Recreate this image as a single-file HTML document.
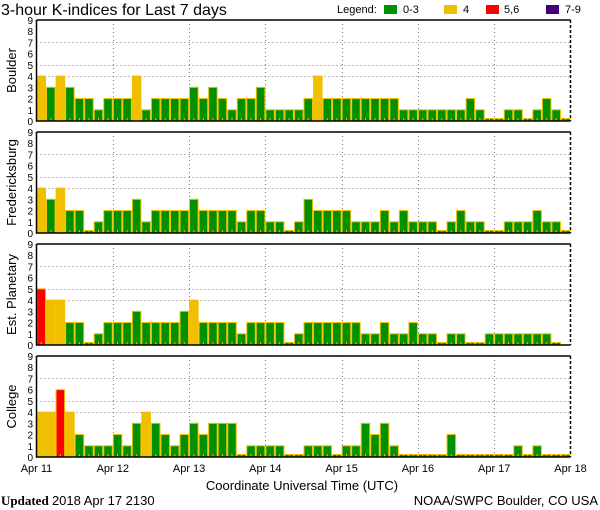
<!DOCTYPE html>
<html><head><meta charset="utf-8"><style>
body{margin:0;background:#fff;}
svg{display:block;font-family:"Liberation Sans",sans-serif;}
</style></head><body>
<svg id="chart" width="600" height="510" viewBox="0 0 600 510">
<text x="1" y="15" font-size="16" fill="#000">3-hour K-indices for Last 7 days</text>
<g font-size="11">
<text x="337" y="13">Legend:</text>
<rect x="384" y="5" width="13" height="9" fill="#009000"/>
<text x="403" y="13">0-3</text>
<rect x="444" y="5" width="13" height="9" fill="#f0c000"/>
<text x="463" y="13">4</text>
<rect x="486" y="5" width="13" height="9" fill="#ff0000"/>
<text x="504" y="13">5,6</text>
<rect x="546" y="5" width="13" height="9" fill="#400080"/>
<text x="565" y="13">7-9</text>
</g>
<g id="panels"></g>
<g id="xlabels" font-size="11"></g>
<text x="302" y="490" font-size="13" text-anchor="middle">Coordinate Universal Time (UTC)</text>
<text x="1" y="505" font-size="13" font-family="Liberation Serif, serif"><tspan font-weight="bold">Updated</tspan> <tspan font-family="Liberation Sans, sans-serif">2018 Apr 17 2130</tspan></text>
<text x="598" y="505" font-size="13" text-anchor="end">NOAA/SWPC Boulder, CO USA</text>
</svg>
<script>
const stations = ["Boulder","Fredericksburg","Est. Planetary","College"];
const dayLabels = ["Apr 11","Apr 12","Apr 13","Apr 14","Apr 15","Apr 16","Apr 17","Apr 18"];
const yTicks = [0,1,2,3,4,5,6,7,8,9];
const gridLevels = [4,5,7];
const boulder = [4,3,4,3,2,2,1,2,2,2,4,1,2,2,2,2,3,2,3,2,1,2,2,3,1,1,1,1,2,4,2,2,2,2,2,2,2,2,1,1,1,1,1,1,1,2,1,0,0,1,1,0,1,2,1,0];
const fredericksburg = [4,3,4,2,2,0,1,2,2,2,3,1,2,2,2,2,3,2,2,2,2,1,2,2,1,1,0,1,3,2,2,2,2,1,1,1,2,1,2,1,1,1,0,1,2,1,1,0,0,1,1,1,2,1,1,0];
const planetary = [5,4,4,2,2,0,1,2,2,2,3,2,2,2,2,3,4,2,2,2,2,1,2,2,2,2,0,1,2,2,2,2,2,2,1,1,2,1,1,2,1,1,0,1,1,0,0,1,1,1,1,1,1,1,0,null];
const college = [4,4,6,4,2,1,1,1,2,1,3,4,3,2,1,2,3,2,3,3,3,0,1,1,1,1,0,0,1,1,1,0,1,1,3,2,3,1,0,0,0,0,0,2,0,0,0,0,0,0,1,0,1,0,0,0];
const series = [boulder,fredericksburg,planetary,college];

const NS="http://www.w3.org/2000/svg";
const X0=36.5, X1=570.5, NB=56;
const panelTops=[20,132,244,356], PH=101;
const bw=(X1-X0)/NB;
function xScale(i){return X0+i*bw;}
function mk(tag,attrs,parent){const e=document.createElementNS(NS,tag);for(const k in attrs)e.setAttribute(k,attrs[k]);parent.appendChild(e);return e;}
function color(v){return v<=3?"#009000":v==4?"#f0c000":v<=6?"#ff0000":"#400080";}
const P=document.getElementById("panels");
stations.forEach((name,pi)=>{
  const top=panelTops[pi], bot=top+PH;
  const yS=v=>bot-v*PH/9;
  const g=mk("g",{},P);
  
  
  // grid
  gridLevels.forEach(l=>{
    const ln=mk("line",{x1:X0,x2:X1,y1:Math.round(yS(l))+0.5,y2:Math.round(yS(l))+0.5,stroke:"#777","stroke-dasharray":"1 3"},g);
    
    
  });
  for(let d=1;d<7;d++){
    const x=Math.round(xScale(d*8))+0.5;
    const ln=mk("line",{x1:x,x2:x,y1:top,y2:bot,stroke:"#777","stroke-dasharray":"1 3"},g);
    
    
  }
  // bars
  series[pi].forEach((v,i)=>{
    if(v===null)return;
    const x=xScale(i), y=v===0?bot-2.5:yS(v);
    const r=mk("rect",{x:x+0.5,y:y,width:bw-1,height:bot-y,fill:color(v),stroke:"#f0c000","stroke-width":1},g);
    
    
    const t=mk("rect",{x:x+bw/2-0.5,y:bot-3,width:1,height:3,fill:"#f0c000"},g);
    
    
  });
  // axes
  const ax=mk("path",{d:`M${X0} ${top}H${X1} M${X0} ${top}V${bot}H${X1}`,stroke:"#000","stroke-width":1.5,fill:"none"},g);
  
  
  const rb=mk("line",{x1:X1,x2:X1,y1:top,y2:bot,stroke:"#000","stroke-width":1.5,"stroke-dasharray":"3 2"},g);
  
  
  yTicks.forEach(v=>{
    const t=mk("text",{x:33,y:yS(v)+4,"font-size":10,"text-anchor":"end"},g);
    t.textContent=v;
    
    
  });
  const lbl=mk("text",{transform:`translate(16 ${top+PH/2}) rotate(-90)`,"font-size":13,"text-anchor":"middle"},g);
  lbl.textContent=name;
  
  
});
const XL=document.getElementById("xlabels");
dayLabels.forEach((d,i)=>{
  const t=mk("text",{x:xScale(i*8),y:472,"text-anchor":"middle"},XL);
  t.textContent=d;
  
  
});
</script>
</body></html>
